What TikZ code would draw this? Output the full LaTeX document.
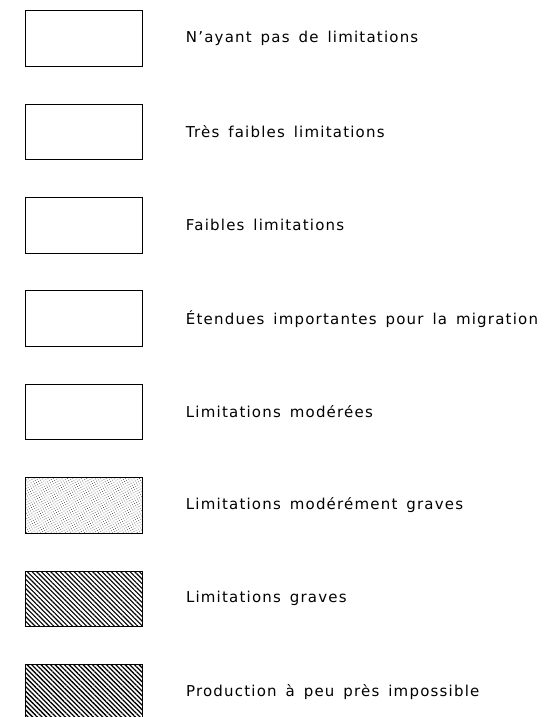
\documentclass[tikz,border=0pt]{standalone}
\usepackage{fontspec}
\setmainfont[LetterSpace=8,WordSpace=1.5]{DejaVu Sans}
\usepackage{tikz}
\usetikzlibrary{positioning,patterns.meta}

\tikzset{
  legbox/.style={draw, line width=1pt, minimum width=117pt, minimum height=55.5pt, inner sep=0pt},
  legtext/.style={anchor=west, inner sep=0pt, font=\fontsize{15}{17}\selectfont},
}

\begin{document}
\begin{tikzpicture}[x=1pt,y=1pt]
  \useasboundingbox (0,0) rectangle (548,-717);
  % legend boxes
  \node[legbox] (none) at (83.75,-38.45) {};
  \node[legbox] (veryslight) at (83.75,-131.85) {};
  \node[legbox] (slight) at (83.75,-225.25) {};
  \node[legbox] (migration) at (83.75,-318.65) {};
  \node[legbox] (moderate) at (83.75,-412.05) {};
  \node[legbox, pattern={Dots[radius=0.5pt,distance=2.4pt,angle=30]}, pattern color=black!70] (modsevere) at (83.75,-505.45) {};
  \node[legbox, pattern={Lines[angle=-45,distance=3.3pt,line width=1.1pt]}] (severe) at (83.75,-598.85) {};
  \node[legbox, pattern={Lines[angle=-45,distance=3.3pt,line width=1.3pt]}] (impossible) at (83.75,-692.25) {};
  % labels
  \node[legtext, right=43pt of none] (tnone) {N'ayant pas de limitations};
  \node[legtext, right=43pt of veryslight] (tveryslight) {Très faibles limitations};
  \node[legtext, right=43pt of slight] (tslight) {Faibles limitations};
  \node[legtext, right=43pt of migration] (tmigration) {Étendues importantes pour la migration};
  \node[legtext, right=43pt of moderate] (tmoderate) {Limitations modérées};
  \node[legtext, right=43pt of modsevere] (tmodsevere) {Limitations modérément graves};
  \node[legtext, right=43pt of severe] (tsevere) {Limitations graves};
  \node[legtext, right=43pt of impossible] (timpossible) {Production à peu près impossible};
\end{tikzpicture}
\end{document}
